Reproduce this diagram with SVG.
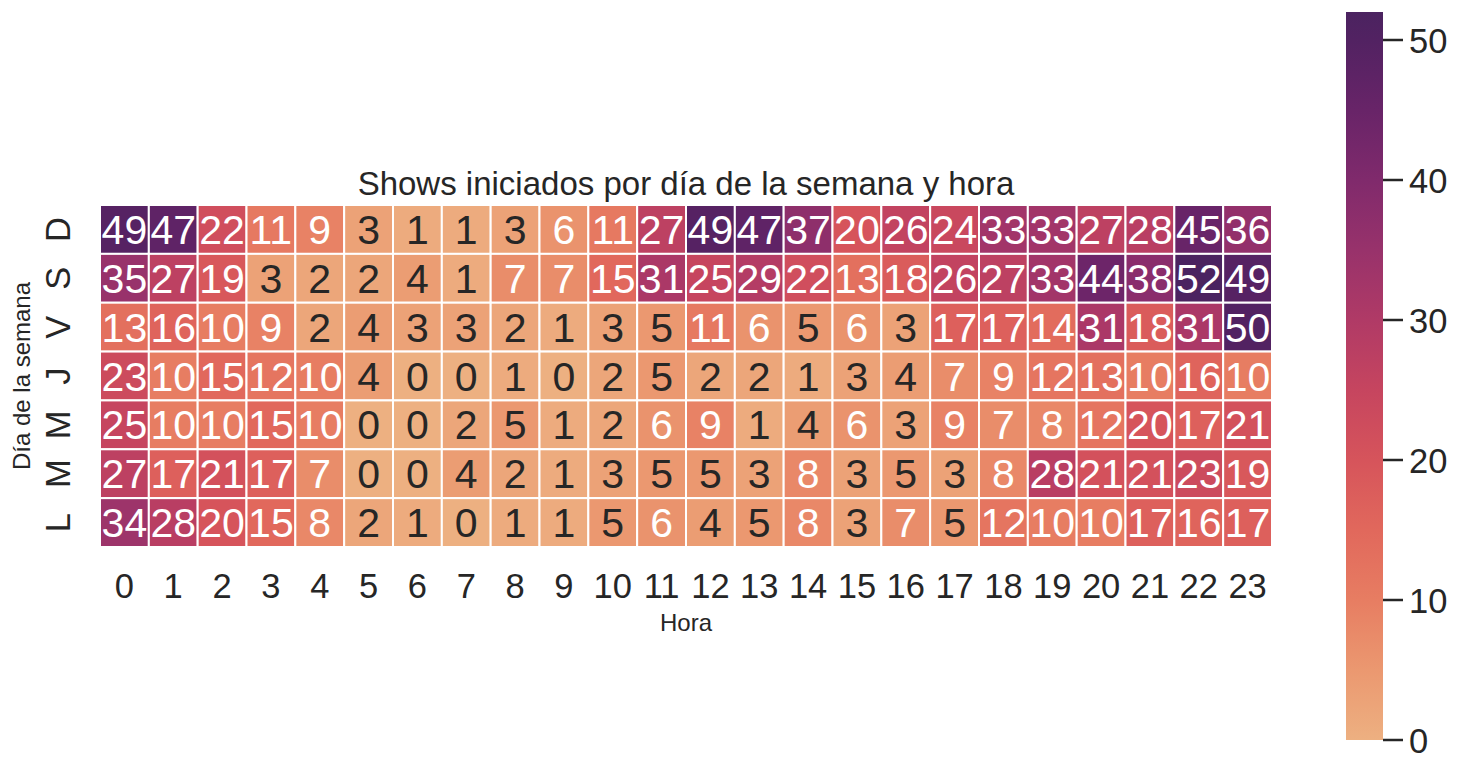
<svg xmlns="http://www.w3.org/2000/svg" width="1460" height="772" viewBox="0 0 1460 772">
<style>
text{font-family:"Liberation Sans",Arial,sans-serif;}
.cell rect{stroke:#ffffff;stroke-width:2}
.cell text{font-size:41px;text-anchor:middle}
.w{fill:#ffffff}
.k{fill:#262626}
.tick{font-size:34.5px;fill:#262626}
.xt{text-anchor:middle}
.lab{font-size:24px;fill:#262626;text-anchor:middle}
.title{font-size:33px;fill:#262626;text-anchor:middle}
.tk{stroke:#262626;stroke-width:2.5}
.v0{fill:#EDB081}.v1{fill:#EDAB7E}.v2{fill:#ECA67A}.v3{fill:#ECA277}.v4{fill:#EB9D73}.v5{fill:#EB9870}
.v6{fill:#EA936D}.v7{fill:#E98D6A}.v8{fill:#E98868}.v9{fill:#E88265}.v10{fill:#E77D62}.v11{fill:#E67961}
.v12{fill:#E57560}.v13{fill:#E3705E}.v14{fill:#E26C5D}.v15{fill:#E1685C}.v16{fill:#DF645C}.v17{fill:#DD605C}
.v18{fill:#DA5C5B}.v19{fill:#D8585B}.v20{fill:#D6545B}.v21{fill:#D3515C}.v22{fill:#D04E5D}.v23{fill:#CC4B5D}
.v24{fill:#C9485E}.v25{fill:#C6455F}.v26{fill:#C24360}.v27{fill:#BD4162}.v28{fill:#B93E63}.v29{fill:#B43C65}
.v31{fill:#AB3867}.v33{fill:#A23569}.v34{fill:#9D346A}.v35{fill:#98326B}.v36{fill:#93306B}.v37{fill:#8E2F6B}
.v38{fill:#8A2D6C}.v44{fill:#6D2569}.v45{fill:#682468}.v47{fill:#5F2366}.v49{fill:#562263}.v50{fill:#522262}.v52{fill:#4B2360}
</style>
<defs>
<linearGradient id="flare" x1="0" y1="1" x2="0" y2="0">
<stop offset="0" stop-color="#EDB081"/>
<stop offset="0.0962" stop-color="#EB9870"/>
<stop offset="0.1923" stop-color="#E77D62"/>
<stop offset="0.2885" stop-color="#E1685C"/>
<stop offset="0.3846" stop-color="#D6545B"/>
<stop offset="0.4808" stop-color="#C6455F"/>
<stop offset="0.5769" stop-color="#B03A66"/>
<stop offset="0.6731" stop-color="#98326B"/>
<stop offset="0.7692" stop-color="#802A6C"/>
<stop offset="0.8654" stop-color="#682468"/>
<stop offset="0.9615" stop-color="#522262"/>
<stop offset="1" stop-color="#4B2360"/>
</linearGradient>
</defs>
<rect x="0" y="0" width="1460" height="772" fill="#ffffff"/>
<text id="title" class="title" x="686" y="195">Shows iniciados por día de la semana y hora</text>
<g id="heatmap">
<g id="row-D" class="cell">
<g id="D-0" transform="translate(100 205)"><rect width="48.83" height="48.86" class="v49"/><text x="24.4" y="39" class="w">49</text></g>
<g id="D-1" transform="translate(148.83 205)"><rect width="48.83" height="48.86" class="v47"/><text x="24.4" y="39" class="w">47</text></g>
<g id="D-2" transform="translate(197.67 205)"><rect width="48.83" height="48.86" class="v22"/><text x="24.4" y="39" class="w">22</text></g>
<g id="D-3" transform="translate(246.5 205)"><rect width="48.83" height="48.86" class="v11"/><text x="24.4" y="39" class="w">11</text></g>
<g id="D-4" transform="translate(295.33 205)"><rect width="48.83" height="48.86" class="v9"/><text x="24.4" y="39" class="w">9</text></g>
<g id="D-5" transform="translate(344.17 205)"><rect width="48.83" height="48.86" class="v3"/><text x="24.4" y="39" class="k">3</text></g>
<g id="D-6" transform="translate(393 205)"><rect width="48.83" height="48.86" class="v1"/><text x="24.4" y="39" class="k">1</text></g>
<g id="D-7" transform="translate(441.83 205)"><rect width="48.83" height="48.86" class="v1"/><text x="24.4" y="39" class="k">1</text></g>
<g id="D-8" transform="translate(490.67 205)"><rect width="48.83" height="48.86" class="v3"/><text x="24.4" y="39" class="k">3</text></g>
<g id="D-9" transform="translate(539.5 205)"><rect width="48.83" height="48.86" class="v6"/><text x="24.4" y="39" class="w">6</text></g>
<g id="D-10" transform="translate(588.33 205)"><rect width="48.83" height="48.86" class="v11"/><text x="24.4" y="39" class="w">11</text></g>
<g id="D-11" transform="translate(637.17 205)"><rect width="48.83" height="48.86" class="v27"/><text x="24.4" y="39" class="w">27</text></g>
<g id="D-12" transform="translate(686 205)"><rect width="48.83" height="48.86" class="v49"/><text x="24.4" y="39" class="w">49</text></g>
<g id="D-13" transform="translate(734.83 205)"><rect width="48.83" height="48.86" class="v47"/><text x="24.4" y="39" class="w">47</text></g>
<g id="D-14" transform="translate(783.67 205)"><rect width="48.83" height="48.86" class="v37"/><text x="24.4" y="39" class="w">37</text></g>
<g id="D-15" transform="translate(832.5 205)"><rect width="48.83" height="48.86" class="v20"/><text x="24.4" y="39" class="w">20</text></g>
<g id="D-16" transform="translate(881.33 205)"><rect width="48.83" height="48.86" class="v26"/><text x="24.4" y="39" class="w">26</text></g>
<g id="D-17" transform="translate(930.17 205)"><rect width="48.83" height="48.86" class="v24"/><text x="24.4" y="39" class="w">24</text></g>
<g id="D-18" transform="translate(979 205)"><rect width="48.83" height="48.86" class="v33"/><text x="24.4" y="39" class="w">33</text></g>
<g id="D-19" transform="translate(1027.83 205)"><rect width="48.83" height="48.86" class="v33"/><text x="24.4" y="39" class="w">33</text></g>
<g id="D-20" transform="translate(1076.67 205)"><rect width="48.83" height="48.86" class="v27"/><text x="24.4" y="39" class="w">27</text></g>
<g id="D-21" transform="translate(1125.5 205)"><rect width="48.83" height="48.86" class="v28"/><text x="24.4" y="39" class="w">28</text></g>
<g id="D-22" transform="translate(1174.33 205)"><rect width="48.83" height="48.86" class="v45"/><text x="24.4" y="39" class="w">45</text></g>
<g id="D-23" transform="translate(1223.17 205)"><rect width="48.83" height="48.86" class="v36"/><text x="24.4" y="39" class="w">36</text></g>
</g>
<g id="row-S" class="cell">
<g id="S-0" transform="translate(100 253.86)"><rect width="48.83" height="48.86" class="v35"/><text x="24.4" y="39" class="w">35</text></g>
<g id="S-1" transform="translate(148.83 253.86)"><rect width="48.83" height="48.86" class="v27"/><text x="24.4" y="39" class="w">27</text></g>
<g id="S-2" transform="translate(197.67 253.86)"><rect width="48.83" height="48.86" class="v19"/><text x="24.4" y="39" class="w">19</text></g>
<g id="S-3" transform="translate(246.5 253.86)"><rect width="48.83" height="48.86" class="v3"/><text x="24.4" y="39" class="k">3</text></g>
<g id="S-4" transform="translate(295.33 253.86)"><rect width="48.83" height="48.86" class="v2"/><text x="24.4" y="39" class="k">2</text></g>
<g id="S-5" transform="translate(344.17 253.86)"><rect width="48.83" height="48.86" class="v2"/><text x="24.4" y="39" class="k">2</text></g>
<g id="S-6" transform="translate(393 253.86)"><rect width="48.83" height="48.86" class="v4"/><text x="24.4" y="39" class="k">4</text></g>
<g id="S-7" transform="translate(441.83 253.86)"><rect width="48.83" height="48.86" class="v1"/><text x="24.4" y="39" class="k">1</text></g>
<g id="S-8" transform="translate(490.67 253.86)"><rect width="48.83" height="48.86" class="v7"/><text x="24.4" y="39" class="w">7</text></g>
<g id="S-9" transform="translate(539.5 253.86)"><rect width="48.83" height="48.86" class="v7"/><text x="24.4" y="39" class="w">7</text></g>
<g id="S-10" transform="translate(588.33 253.86)"><rect width="48.83" height="48.86" class="v15"/><text x="24.4" y="39" class="w">15</text></g>
<g id="S-11" transform="translate(637.17 253.86)"><rect width="48.83" height="48.86" class="v31"/><text x="24.4" y="39" class="w">31</text></g>
<g id="S-12" transform="translate(686 253.86)"><rect width="48.83" height="48.86" class="v25"/><text x="24.4" y="39" class="w">25</text></g>
<g id="S-13" transform="translate(734.83 253.86)"><rect width="48.83" height="48.86" class="v29"/><text x="24.4" y="39" class="w">29</text></g>
<g id="S-14" transform="translate(783.67 253.86)"><rect width="48.83" height="48.86" class="v22"/><text x="24.4" y="39" class="w">22</text></g>
<g id="S-15" transform="translate(832.5 253.86)"><rect width="48.83" height="48.86" class="v13"/><text x="24.4" y="39" class="w">13</text></g>
<g id="S-16" transform="translate(881.33 253.86)"><rect width="48.83" height="48.86" class="v18"/><text x="24.4" y="39" class="w">18</text></g>
<g id="S-17" transform="translate(930.17 253.86)"><rect width="48.83" height="48.86" class="v26"/><text x="24.4" y="39" class="w">26</text></g>
<g id="S-18" transform="translate(979 253.86)"><rect width="48.83" height="48.86" class="v27"/><text x="24.4" y="39" class="w">27</text></g>
<g id="S-19" transform="translate(1027.83 253.86)"><rect width="48.83" height="48.86" class="v33"/><text x="24.4" y="39" class="w">33</text></g>
<g id="S-20" transform="translate(1076.67 253.86)"><rect width="48.83" height="48.86" class="v44"/><text x="24.4" y="39" class="w">44</text></g>
<g id="S-21" transform="translate(1125.5 253.86)"><rect width="48.83" height="48.86" class="v38"/><text x="24.4" y="39" class="w">38</text></g>
<g id="S-22" transform="translate(1174.33 253.86)"><rect width="48.83" height="48.86" class="v52"/><text x="24.4" y="39" class="w">52</text></g>
<g id="S-23" transform="translate(1223.17 253.86)"><rect width="48.83" height="48.86" class="v49"/><text x="24.4" y="39" class="w">49</text></g>
</g>
<g id="row-V" class="cell">
<g id="V-0" transform="translate(100 302.71)"><rect width="48.83" height="48.86" class="v13"/><text x="24.4" y="39" class="w">13</text></g>
<g id="V-1" transform="translate(148.83 302.71)"><rect width="48.83" height="48.86" class="v16"/><text x="24.4" y="39" class="w">16</text></g>
<g id="V-2" transform="translate(197.67 302.71)"><rect width="48.83" height="48.86" class="v10"/><text x="24.4" y="39" class="w">10</text></g>
<g id="V-3" transform="translate(246.5 302.71)"><rect width="48.83" height="48.86" class="v9"/><text x="24.4" y="39" class="w">9</text></g>
<g id="V-4" transform="translate(295.33 302.71)"><rect width="48.83" height="48.86" class="v2"/><text x="24.4" y="39" class="k">2</text></g>
<g id="V-5" transform="translate(344.17 302.71)"><rect width="48.83" height="48.86" class="v4"/><text x="24.4" y="39" class="k">4</text></g>
<g id="V-6" transform="translate(393 302.71)"><rect width="48.83" height="48.86" class="v3"/><text x="24.4" y="39" class="k">3</text></g>
<g id="V-7" transform="translate(441.83 302.71)"><rect width="48.83" height="48.86" class="v3"/><text x="24.4" y="39" class="k">3</text></g>
<g id="V-8" transform="translate(490.67 302.71)"><rect width="48.83" height="48.86" class="v2"/><text x="24.4" y="39" class="k">2</text></g>
<g id="V-9" transform="translate(539.5 302.71)"><rect width="48.83" height="48.86" class="v1"/><text x="24.4" y="39" class="k">1</text></g>
<g id="V-10" transform="translate(588.33 302.71)"><rect width="48.83" height="48.86" class="v3"/><text x="24.4" y="39" class="k">3</text></g>
<g id="V-11" transform="translate(637.17 302.71)"><rect width="48.83" height="48.86" class="v5"/><text x="24.4" y="39" class="k">5</text></g>
<g id="V-12" transform="translate(686 302.71)"><rect width="48.83" height="48.86" class="v11"/><text x="24.4" y="39" class="w">11</text></g>
<g id="V-13" transform="translate(734.83 302.71)"><rect width="48.83" height="48.86" class="v6"/><text x="24.4" y="39" class="w">6</text></g>
<g id="V-14" transform="translate(783.67 302.71)"><rect width="48.83" height="48.86" class="v5"/><text x="24.4" y="39" class="k">5</text></g>
<g id="V-15" transform="translate(832.5 302.71)"><rect width="48.83" height="48.86" class="v6"/><text x="24.4" y="39" class="w">6</text></g>
<g id="V-16" transform="translate(881.33 302.71)"><rect width="48.83" height="48.86" class="v3"/><text x="24.4" y="39" class="k">3</text></g>
<g id="V-17" transform="translate(930.17 302.71)"><rect width="48.83" height="48.86" class="v17"/><text x="24.4" y="39" class="w">17</text></g>
<g id="V-18" transform="translate(979 302.71)"><rect width="48.83" height="48.86" class="v17"/><text x="24.4" y="39" class="w">17</text></g>
<g id="V-19" transform="translate(1027.83 302.71)"><rect width="48.83" height="48.86" class="v14"/><text x="24.4" y="39" class="w">14</text></g>
<g id="V-20" transform="translate(1076.67 302.71)"><rect width="48.83" height="48.86" class="v31"/><text x="24.4" y="39" class="w">31</text></g>
<g id="V-21" transform="translate(1125.5 302.71)"><rect width="48.83" height="48.86" class="v18"/><text x="24.4" y="39" class="w">18</text></g>
<g id="V-22" transform="translate(1174.33 302.71)"><rect width="48.83" height="48.86" class="v31"/><text x="24.4" y="39" class="w">31</text></g>
<g id="V-23" transform="translate(1223.17 302.71)"><rect width="48.83" height="48.86" class="v50"/><text x="24.4" y="39" class="w">50</text></g>
</g>
<g id="row-J" class="cell">
<g id="J-0" transform="translate(100 351.57)"><rect width="48.83" height="48.86" class="v23"/><text x="24.4" y="39" class="w">23</text></g>
<g id="J-1" transform="translate(148.83 351.57)"><rect width="48.83" height="48.86" class="v10"/><text x="24.4" y="39" class="w">10</text></g>
<g id="J-2" transform="translate(197.67 351.57)"><rect width="48.83" height="48.86" class="v15"/><text x="24.4" y="39" class="w">15</text></g>
<g id="J-3" transform="translate(246.5 351.57)"><rect width="48.83" height="48.86" class="v12"/><text x="24.4" y="39" class="w">12</text></g>
<g id="J-4" transform="translate(295.33 351.57)"><rect width="48.83" height="48.86" class="v10"/><text x="24.4" y="39" class="w">10</text></g>
<g id="J-5" transform="translate(344.17 351.57)"><rect width="48.83" height="48.86" class="v4"/><text x="24.4" y="39" class="k">4</text></g>
<g id="J-6" transform="translate(393 351.57)"><rect width="48.83" height="48.86" class="v0"/><text x="24.4" y="39" class="k">0</text></g>
<g id="J-7" transform="translate(441.83 351.57)"><rect width="48.83" height="48.86" class="v0"/><text x="24.4" y="39" class="k">0</text></g>
<g id="J-8" transform="translate(490.67 351.57)"><rect width="48.83" height="48.86" class="v1"/><text x="24.4" y="39" class="k">1</text></g>
<g id="J-9" transform="translate(539.5 351.57)"><rect width="48.83" height="48.86" class="v0"/><text x="24.4" y="39" class="k">0</text></g>
<g id="J-10" transform="translate(588.33 351.57)"><rect width="48.83" height="48.86" class="v2"/><text x="24.4" y="39" class="k">2</text></g>
<g id="J-11" transform="translate(637.17 351.57)"><rect width="48.83" height="48.86" class="v5"/><text x="24.4" y="39" class="k">5</text></g>
<g id="J-12" transform="translate(686 351.57)"><rect width="48.83" height="48.86" class="v2"/><text x="24.4" y="39" class="k">2</text></g>
<g id="J-13" transform="translate(734.83 351.57)"><rect width="48.83" height="48.86" class="v2"/><text x="24.4" y="39" class="k">2</text></g>
<g id="J-14" transform="translate(783.67 351.57)"><rect width="48.83" height="48.86" class="v1"/><text x="24.4" y="39" class="k">1</text></g>
<g id="J-15" transform="translate(832.5 351.57)"><rect width="48.83" height="48.86" class="v3"/><text x="24.4" y="39" class="k">3</text></g>
<g id="J-16" transform="translate(881.33 351.57)"><rect width="48.83" height="48.86" class="v4"/><text x="24.4" y="39" class="k">4</text></g>
<g id="J-17" transform="translate(930.17 351.57)"><rect width="48.83" height="48.86" class="v7"/><text x="24.4" y="39" class="w">7</text></g>
<g id="J-18" transform="translate(979 351.57)"><rect width="48.83" height="48.86" class="v9"/><text x="24.4" y="39" class="w">9</text></g>
<g id="J-19" transform="translate(1027.83 351.57)"><rect width="48.83" height="48.86" class="v12"/><text x="24.4" y="39" class="w">12</text></g>
<g id="J-20" transform="translate(1076.67 351.57)"><rect width="48.83" height="48.86" class="v13"/><text x="24.4" y="39" class="w">13</text></g>
<g id="J-21" transform="translate(1125.5 351.57)"><rect width="48.83" height="48.86" class="v10"/><text x="24.4" y="39" class="w">10</text></g>
<g id="J-22" transform="translate(1174.33 351.57)"><rect width="48.83" height="48.86" class="v16"/><text x="24.4" y="39" class="w">16</text></g>
<g id="J-23" transform="translate(1223.17 351.57)"><rect width="48.83" height="48.86" class="v10"/><text x="24.4" y="39" class="w">10</text></g>
</g>
<g id="row-M1" class="cell">
<g id="M1-0" transform="translate(100 400.43)"><rect width="48.83" height="48.86" class="v25"/><text x="24.4" y="39" class="w">25</text></g>
<g id="M1-1" transform="translate(148.83 400.43)"><rect width="48.83" height="48.86" class="v10"/><text x="24.4" y="39" class="w">10</text></g>
<g id="M1-2" transform="translate(197.67 400.43)"><rect width="48.83" height="48.86" class="v10"/><text x="24.4" y="39" class="w">10</text></g>
<g id="M1-3" transform="translate(246.5 400.43)"><rect width="48.83" height="48.86" class="v15"/><text x="24.4" y="39" class="w">15</text></g>
<g id="M1-4" transform="translate(295.33 400.43)"><rect width="48.83" height="48.86" class="v10"/><text x="24.4" y="39" class="w">10</text></g>
<g id="M1-5" transform="translate(344.17 400.43)"><rect width="48.83" height="48.86" class="v0"/><text x="24.4" y="39" class="k">0</text></g>
<g id="M1-6" transform="translate(393 400.43)"><rect width="48.83" height="48.86" class="v0"/><text x="24.4" y="39" class="k">0</text></g>
<g id="M1-7" transform="translate(441.83 400.43)"><rect width="48.83" height="48.86" class="v2"/><text x="24.4" y="39" class="k">2</text></g>
<g id="M1-8" transform="translate(490.67 400.43)"><rect width="48.83" height="48.86" class="v5"/><text x="24.4" y="39" class="k">5</text></g>
<g id="M1-9" transform="translate(539.5 400.43)"><rect width="48.83" height="48.86" class="v1"/><text x="24.4" y="39" class="k">1</text></g>
<g id="M1-10" transform="translate(588.33 400.43)"><rect width="48.83" height="48.86" class="v2"/><text x="24.4" y="39" class="k">2</text></g>
<g id="M1-11" transform="translate(637.17 400.43)"><rect width="48.83" height="48.86" class="v6"/><text x="24.4" y="39" class="w">6</text></g>
<g id="M1-12" transform="translate(686 400.43)"><rect width="48.83" height="48.86" class="v9"/><text x="24.4" y="39" class="w">9</text></g>
<g id="M1-13" transform="translate(734.83 400.43)"><rect width="48.83" height="48.86" class="v1"/><text x="24.4" y="39" class="k">1</text></g>
<g id="M1-14" transform="translate(783.67 400.43)"><rect width="48.83" height="48.86" class="v4"/><text x="24.4" y="39" class="k">4</text></g>
<g id="M1-15" transform="translate(832.5 400.43)"><rect width="48.83" height="48.86" class="v6"/><text x="24.4" y="39" class="w">6</text></g>
<g id="M1-16" transform="translate(881.33 400.43)"><rect width="48.83" height="48.86" class="v3"/><text x="24.4" y="39" class="k">3</text></g>
<g id="M1-17" transform="translate(930.17 400.43)"><rect width="48.83" height="48.86" class="v9"/><text x="24.4" y="39" class="w">9</text></g>
<g id="M1-18" transform="translate(979 400.43)"><rect width="48.83" height="48.86" class="v7"/><text x="24.4" y="39" class="w">7</text></g>
<g id="M1-19" transform="translate(1027.83 400.43)"><rect width="48.83" height="48.86" class="v8"/><text x="24.4" y="39" class="w">8</text></g>
<g id="M1-20" transform="translate(1076.67 400.43)"><rect width="48.83" height="48.86" class="v12"/><text x="24.4" y="39" class="w">12</text></g>
<g id="M1-21" transform="translate(1125.5 400.43)"><rect width="48.83" height="48.86" class="v20"/><text x="24.4" y="39" class="w">20</text></g>
<g id="M1-22" transform="translate(1174.33 400.43)"><rect width="48.83" height="48.86" class="v17"/><text x="24.4" y="39" class="w">17</text></g>
<g id="M1-23" transform="translate(1223.17 400.43)"><rect width="48.83" height="48.86" class="v21"/><text x="24.4" y="39" class="w">21</text></g>
</g>
<g id="row-M2" class="cell">
<g id="M2-0" transform="translate(100 449.29)"><rect width="48.83" height="48.86" class="v27"/><text x="24.4" y="39" class="w">27</text></g>
<g id="M2-1" transform="translate(148.83 449.29)"><rect width="48.83" height="48.86" class="v17"/><text x="24.4" y="39" class="w">17</text></g>
<g id="M2-2" transform="translate(197.67 449.29)"><rect width="48.83" height="48.86" class="v21"/><text x="24.4" y="39" class="w">21</text></g>
<g id="M2-3" transform="translate(246.5 449.29)"><rect width="48.83" height="48.86" class="v17"/><text x="24.4" y="39" class="w">17</text></g>
<g id="M2-4" transform="translate(295.33 449.29)"><rect width="48.83" height="48.86" class="v7"/><text x="24.4" y="39" class="w">7</text></g>
<g id="M2-5" transform="translate(344.17 449.29)"><rect width="48.83" height="48.86" class="v0"/><text x="24.4" y="39" class="k">0</text></g>
<g id="M2-6" transform="translate(393 449.29)"><rect width="48.83" height="48.86" class="v0"/><text x="24.4" y="39" class="k">0</text></g>
<g id="M2-7" transform="translate(441.83 449.29)"><rect width="48.83" height="48.86" class="v4"/><text x="24.4" y="39" class="k">4</text></g>
<g id="M2-8" transform="translate(490.67 449.29)"><rect width="48.83" height="48.86" class="v2"/><text x="24.4" y="39" class="k">2</text></g>
<g id="M2-9" transform="translate(539.5 449.29)"><rect width="48.83" height="48.86" class="v1"/><text x="24.4" y="39" class="k">1</text></g>
<g id="M2-10" transform="translate(588.33 449.29)"><rect width="48.83" height="48.86" class="v3"/><text x="24.4" y="39" class="k">3</text></g>
<g id="M2-11" transform="translate(637.17 449.29)"><rect width="48.83" height="48.86" class="v5"/><text x="24.4" y="39" class="k">5</text></g>
<g id="M2-12" transform="translate(686 449.29)"><rect width="48.83" height="48.86" class="v5"/><text x="24.4" y="39" class="k">5</text></g>
<g id="M2-13" transform="translate(734.83 449.29)"><rect width="48.83" height="48.86" class="v3"/><text x="24.4" y="39" class="k">3</text></g>
<g id="M2-14" transform="translate(783.67 449.29)"><rect width="48.83" height="48.86" class="v8"/><text x="24.4" y="39" class="w">8</text></g>
<g id="M2-15" transform="translate(832.5 449.29)"><rect width="48.83" height="48.86" class="v3"/><text x="24.4" y="39" class="k">3</text></g>
<g id="M2-16" transform="translate(881.33 449.29)"><rect width="48.83" height="48.86" class="v5"/><text x="24.4" y="39" class="k">5</text></g>
<g id="M2-17" transform="translate(930.17 449.29)"><rect width="48.83" height="48.86" class="v3"/><text x="24.4" y="39" class="k">3</text></g>
<g id="M2-18" transform="translate(979 449.29)"><rect width="48.83" height="48.86" class="v8"/><text x="24.4" y="39" class="w">8</text></g>
<g id="M2-19" transform="translate(1027.83 449.29)"><rect width="48.83" height="48.86" class="v28"/><text x="24.4" y="39" class="w">28</text></g>
<g id="M2-20" transform="translate(1076.67 449.29)"><rect width="48.83" height="48.86" class="v21"/><text x="24.4" y="39" class="w">21</text></g>
<g id="M2-21" transform="translate(1125.5 449.29)"><rect width="48.83" height="48.86" class="v21"/><text x="24.4" y="39" class="w">21</text></g>
<g id="M2-22" transform="translate(1174.33 449.29)"><rect width="48.83" height="48.86" class="v23"/><text x="24.4" y="39" class="w">23</text></g>
<g id="M2-23" transform="translate(1223.17 449.29)"><rect width="48.83" height="48.86" class="v19"/><text x="24.4" y="39" class="w">19</text></g>
</g>
<g id="row-L" class="cell">
<g id="L-0" transform="translate(100 498.14)"><rect width="48.83" height="48.86" class="v34"/><text x="24.4" y="39" class="w">34</text></g>
<g id="L-1" transform="translate(148.83 498.14)"><rect width="48.83" height="48.86" class="v28"/><text x="24.4" y="39" class="w">28</text></g>
<g id="L-2" transform="translate(197.67 498.14)"><rect width="48.83" height="48.86" class="v20"/><text x="24.4" y="39" class="w">20</text></g>
<g id="L-3" transform="translate(246.5 498.14)"><rect width="48.83" height="48.86" class="v15"/><text x="24.4" y="39" class="w">15</text></g>
<g id="L-4" transform="translate(295.33 498.14)"><rect width="48.83" height="48.86" class="v8"/><text x="24.4" y="39" class="w">8</text></g>
<g id="L-5" transform="translate(344.17 498.14)"><rect width="48.83" height="48.86" class="v2"/><text x="24.4" y="39" class="k">2</text></g>
<g id="L-6" transform="translate(393 498.14)"><rect width="48.83" height="48.86" class="v1"/><text x="24.4" y="39" class="k">1</text></g>
<g id="L-7" transform="translate(441.83 498.14)"><rect width="48.83" height="48.86" class="v0"/><text x="24.4" y="39" class="k">0</text></g>
<g id="L-8" transform="translate(490.67 498.14)"><rect width="48.83" height="48.86" class="v1"/><text x="24.4" y="39" class="k">1</text></g>
<g id="L-9" transform="translate(539.5 498.14)"><rect width="48.83" height="48.86" class="v1"/><text x="24.4" y="39" class="k">1</text></g>
<g id="L-10" transform="translate(588.33 498.14)"><rect width="48.83" height="48.86" class="v5"/><text x="24.4" y="39" class="k">5</text></g>
<g id="L-11" transform="translate(637.17 498.14)"><rect width="48.83" height="48.86" class="v6"/><text x="24.4" y="39" class="w">6</text></g>
<g id="L-12" transform="translate(686 498.14)"><rect width="48.83" height="48.86" class="v4"/><text x="24.4" y="39" class="k">4</text></g>
<g id="L-13" transform="translate(734.83 498.14)"><rect width="48.83" height="48.86" class="v5"/><text x="24.4" y="39" class="k">5</text></g>
<g id="L-14" transform="translate(783.67 498.14)"><rect width="48.83" height="48.86" class="v8"/><text x="24.4" y="39" class="w">8</text></g>
<g id="L-15" transform="translate(832.5 498.14)"><rect width="48.83" height="48.86" class="v3"/><text x="24.4" y="39" class="k">3</text></g>
<g id="L-16" transform="translate(881.33 498.14)"><rect width="48.83" height="48.86" class="v7"/><text x="24.4" y="39" class="w">7</text></g>
<g id="L-17" transform="translate(930.17 498.14)"><rect width="48.83" height="48.86" class="v5"/><text x="24.4" y="39" class="k">5</text></g>
<g id="L-18" transform="translate(979 498.14)"><rect width="48.83" height="48.86" class="v12"/><text x="24.4" y="39" class="w">12</text></g>
<g id="L-19" transform="translate(1027.83 498.14)"><rect width="48.83" height="48.86" class="v10"/><text x="24.4" y="39" class="w">10</text></g>
<g id="L-20" transform="translate(1076.67 498.14)"><rect width="48.83" height="48.86" class="v10"/><text x="24.4" y="39" class="w">10</text></g>
<g id="L-21" transform="translate(1125.5 498.14)"><rect width="48.83" height="48.86" class="v17"/><text x="24.4" y="39" class="w">17</text></g>
<g id="L-22" transform="translate(1174.33 498.14)"><rect width="48.83" height="48.86" class="v16"/><text x="24.4" y="39" class="w">16</text></g>
<g id="L-23" transform="translate(1223.17 498.14)"><rect width="48.83" height="48.86" class="v17"/><text x="24.4" y="39" class="w">17</text></g>
</g>
</g>
<g id="y-ticks" class="tick">
<text class="xt" transform="translate(70 229.43) rotate(-90)">D</text>
<text class="xt" transform="translate(70 278.29) rotate(-90)">S</text>
<text class="xt" transform="translate(70 327.14) rotate(-90)">V</text>
<text class="xt" transform="translate(70 376) rotate(-90)">J</text>
<text class="xt" transform="translate(70 424.86) rotate(-90)">M</text>
<text class="xt" transform="translate(70 473.71) rotate(-90)">M</text>
<text class="xt" transform="translate(70 522.57) rotate(-90)">L</text>
</g>
<g id="x-ticks" class="tick xt">
<text x="124.4" y="598">0</text><text x="173.2" y="598">1</text><text x="222.1" y="598">2</text><text x="270.9" y="598">3</text>
<text x="319.8" y="598">4</text><text x="368.6" y="598">5</text><text x="417.4" y="598">6</text><text x="466.3" y="598">7</text>
<text x="515.1" y="598">8</text><text x="563.9" y="598">9</text><text x="612.8" y="598">10</text><text x="661.6" y="598">11</text>
<text x="710.4" y="598">12</text><text x="759.3" y="598">13</text><text x="808.1" y="598">14</text><text x="857" y="598">15</text>
<text x="905.8" y="598">16</text><text x="954.6" y="598">17</text><text x="1003.5" y="598">18</text><text x="1052.3" y="598">19</text>
<text x="1101.1" y="598">20</text><text x="1150" y="598">21</text><text x="1198.8" y="598">22</text><text x="1247.6" y="598">23</text>
</g>
<text id="xlabel" class="lab" x="686" y="631">Hora</text>
<text id="ylabel" class="lab" transform="translate(30 376) rotate(-90)">Día de la semana</text>
<g id="colorbar">
<rect x="1346" y="12" width="37" height="728" fill="url(#flare)"/>
<g class="tk">
<line x1="1383" y1="740" x2="1403" y2="740"/>
<line x1="1383" y1="600" x2="1403" y2="600"/>
<line x1="1383" y1="460" x2="1403" y2="460"/>
<line x1="1383" y1="320" x2="1403" y2="320"/>
<line x1="1383" y1="180" x2="1403" y2="180"/>
<line x1="1383" y1="40" x2="1403" y2="40"/>
</g>
<g class="tick">
<text x="1409" y="752.5">0</text>
<text x="1409" y="612.5">10</text>
<text x="1409" y="472.5">20</text>
<text x="1409" y="332.5">30</text>
<text x="1409" y="192.5">40</text>
<text x="1409" y="52.5">50</text>
</g>
</g>
</svg>
